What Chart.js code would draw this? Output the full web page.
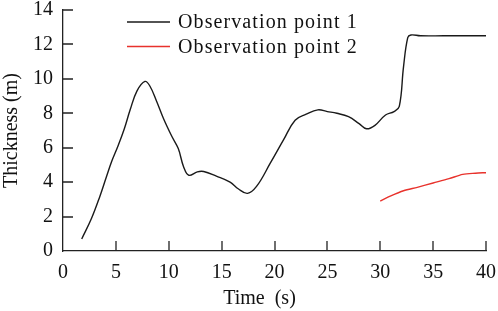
<!DOCTYPE html>
<html>
<head>
<meta charset="utf-8">
<script src="https://cdn.jsdelivr.net/npm/chart.js@4/dist/chart.umd.min.js"></script>
<style>
  html, body { margin: 0; padding: 0; background: #fff; }
  #wrap { width: 498px; height: 311px; }
</style>
</head>
<body>
<div id="wrap"><canvas id="thick"></canvas></div>
<script>
// observation point 1 (time in s, thickness in m)
const t1 = [1.77, 2.7, 3.5, 4.1, 4.6, 5.2, 5.8, 6.35, 7.0, 7.75, 8.2, 8.85, 9.5, 10.3, 10.9, 11.4, 11.9, 12.7, 13.3, 14.5, 15.8, 16.6, 17.45, 18.3, 19.6, 20.85, 21.95, 23.0, 24.1, 25.0, 25.9, 27.0, 28.0, 28.7, 29.5, 30.5, 31.3, 31.8, 32.2, 32.6, 32.9, 33.8, 36.0, 38.0, 40.0];
const v1 = [0.7, 1.9, 3.2, 4.3, 5.2, 6.1, 7.1, 8.2, 9.3, 9.85, 9.6, 8.7, 7.7, 6.65, 5.95, 4.9, 4.4, 4.6, 4.62, 4.35, 4.0, 3.6, 3.35, 3.75, 5.1, 6.45, 7.6, 7.95, 8.2, 8.1, 8.0, 7.8, 7.4, 7.1, 7.3, 7.9, 8.1, 8.4, 10.7, 12.4, 12.55, 12.5, 12.5, 12.5, 12.5];
// observation point 2
const t2 = [30.0, 31.0, 32.2, 33.5, 35.0, 36.5, 37.8, 39.0, 40.0];
const v2 = [2.9, 3.2, 3.5, 3.7, 3.95, 4.2, 4.45, 4.52, 4.55];

const seriesNames = ["Observation point 1", "Observation point 2"];
const lineColors = ["#1a1a1a", "#e8322c"];
const xTicks = [0, 5, 10, 15, 20, 25, 30, 35, 40];
const yTicks = [0, 2, 4, 6, 8, 10, 12, 14];

const FONT = "'Liberation Serif', 'Times New Roman', serif";

function pts(xs, ys) {
  return xs.map((x, i) => ({ x: x, y: ys[i] }));
}

// ticks drawn inward, and the legend in the top-left of the plot
const extras = {
  id: "extras",
  afterDraw(chart) {
    const ctx = chart.ctx;
    const xs = chart.scales.x, ys = chart.scales.y;
    const area = chart.chartArea;
    ctx.save();
    ctx.strokeStyle = "#222";
    ctx.lineWidth = 1.3;
    ctx.beginPath();
    xTicks.forEach(v => {
      if (v === 0) return;
      const px = Math.round(xs.getPixelForValue(v));
      ctx.moveTo(px, area.bottom);
      ctx.lineTo(px, area.bottom - 10);
    });
    yTicks.forEach(v => {
      if (v === 0) return;
      const py = Math.round(ys.getPixelForValue(v));
      ctx.moveTo(area.left, py);
      ctx.lineTo(area.left + 10, py);
    });
    ctx.stroke();

    // legend
    ctx.font = "20px " + FONT;
    ctx.letterSpacing = "1.1px";
    ctx.textBaseline = "middle";
    ctx.fillStyle = "#111";
    chart.data.datasets.forEach((ds, i) => {
      const y = 22 + i * 24.5;
      ctx.strokeStyle = ds.borderColor;
      ctx.lineWidth = 1.3;
      ctx.beginPath();
      ctx.moveTo(127, y);
      ctx.lineTo(170, y);
      ctx.stroke();
      ctx.fillText(ds.label, 178, y + 1);
    });
    ctx.restore();
  }
};

new Chart("thick", {
  type: "line",
  data: {
    datasets: [
      {
        label: seriesNames[0],
        data: pts(t1, v1),
        borderColor: lineColors[0],
        borderWidth: 1.4,
        pointRadius: 0,
        tension: 0.4,
        fill: false
      },
      {
        label: seriesNames[1],
        data: pts(t2, v2),
        borderColor: lineColors[1],
        borderWidth: 1.4,
        pointRadius: 0,
        tension: 0.3,
        fill: false
      }
    ]
  },
  options: {
    responsive: true,
    maintainAspectRatio: false,
    animation: false,
    layout: { padding: { top: 10, right: 12, left: 0, bottom: 0 } },
    plugins: {
      legend: { display: false },
      tooltip: { enabled: false }
    },
    scales: {
      x: {
        type: "linear",
        min: 0,
        max: 40,
        afterBuildTicks: s => { s.ticks = xTicks.map(v => ({ value: v })); },
        afterFit: s => { s.height = 60; s.paddingLeft = 0; s.paddingRight = 0; },
        grid: { display: false, drawTicks: false },
        border: { display: true, color: "#222", width: 1.3 },
        ticks: {
          color: "#111",
          padding: 10,
          maxRotation: 0,
          font: { family: FONT, size: 20 }
        },
        title: {
          display: true,
          text: "Time  (s)\u00a0\u00a0\u00a0\u00a0\u00a0\u00a0",
          color: "#111",
          padding: { top: 0, bottom: 0 },
          font: { family: FONT, size: 20 }
        }
      },
      y: {
        min: 0,
        max: 14,
        afterBuildTicks: s => { s.ticks = yTicks.map(v => ({ value: v })); },
        afterFit: s => { s.width = 63; s.paddingTop = 0; s.paddingBottom = 0; },
        grid: { display: false, drawTicks: false },
        border: { display: true, color: "#222", width: 1.3 },
        ticks: {
          color: "#111",
          padding: 10,
          font: { family: FONT, size: 20 }
        },
        title: {
          display: true,
          text: "Thickness (m)",
          color: "#111",
          padding: { top: 0, bottom: 0 },
          font: { family: FONT, size: 20 }
        }
      }
    }
  },
  plugins: [extras]
});
</script>
</body>
</html>
